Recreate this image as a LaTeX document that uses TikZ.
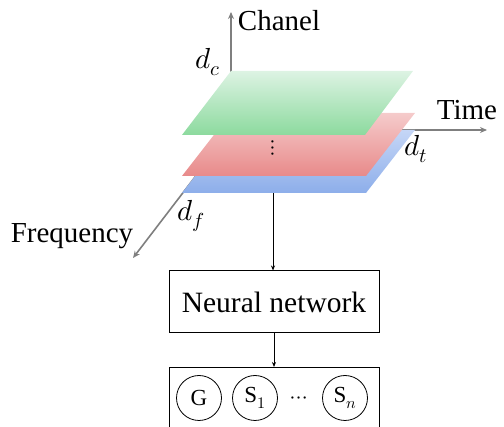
\documentclass[tikz,border=0pt]{standalone}
\usepackage{fontspec}
\usepackage{unicode-math}
\setmainfont{Liberation Serif}
\setmathfont{Latin Modern Math}
\usetikzlibrary{arrows.meta}
\definecolor{gtop}{HTML}{DDF3E3}
\definecolor{gbot}{HTML}{8CDA9E}
\definecolor{rtop}{HTML}{F5CBCB}
\definecolor{rbot}{HTML}{E88A8A}
\definecolor{btop}{HTML}{C5D6F6}
\definecolor{bbot}{HTML}{8DAEEA}
\definecolor{axisgray}{HTML}{7F7F7F}
\begin{document}
\begin{tikzpicture}[x=1pt,y=-1pt,
  axis/.style={draw=axisgray,line width=1.6pt,-{Stealth[length=7pt,width=6pt]}},
  flow/.style={draw=black,line width=0.8pt,-{Stealth[length=5pt,width=4pt]}},
  lbl/.style={font=\fontsize{29}{33}\selectfont, inner sep=0pt},
  box/.style={draw=black,line width=1pt,minimum width=210pt,inner sep=0pt,font=\fontsize{29.5}{33}\selectfont},
  cir/.style={circle,draw=black,line width=0.8pt,minimum size=45pt,inner sep=0pt,font=\fontsize{23}{26}\selectfont}]
\useasboundingbox (0,0) rectangle (504,427);
\clip (0,0) rectangle (504,427);
% axes
\coordinate (O) at (231,130);
\coordinate (C) at (231,12);
\coordinate (T) at (487,130);
\coordinate (F) at (133,258);
\draw[axis] (O) -- (C);
\draw[axis] (O) -- (T);
\draw[axis] (O) -- (F);
% planes
\shade[top color=btop,bottom color=bbot] (182,193) -- (366,193) -- (415,130) -- (231,130) -- cycle;
\shade[top color=rtop,bottom color=rbot] (182,176) -- (366,176) -- (415,113) -- (231,113) -- cycle;
\shade[top color=gtop,bottom color=gbot] (182,135) -- (365,135) -- (413,71) -- (231,71) -- cycle;
\node[font=\fontsize{22}{24}\selectfont, inner sep=0pt] (dots) at (273,148) {$\vdots$};
% labels
\node[lbl] (chanel) at (279,21) {Chanel};
\node[lbl] (time) at (467,110) {Time};
\node[lbl] (freq) at (72,236) {Frequency};
\node[lbl] (dc) at (208,62) {$d_c$};
\node[lbl] (dt) at (416,149) {$d_t$};
\node[lbl] (df) at (191,216) {$d_f$};
% network
\coordinate (bp) at (273,193);
\node[box, minimum height=62pt] (nn) at (274,302) {Neural network};
\node[box, minimum height=80pt, anchor=north] (out) at (274,367) {};
\node[cir] (g) at (199,398) {G};
\node[cir] (s1) at (255,398) {S$_1$};
\node[font=\fontsize{22}{26}\selectfont, inner sep=0pt] (ell) at (299,400) {$\cdots$};
\node[cir] (sn) at (345,398) {S$_n$};
\draw[flow] (bp) -- (bp |- nn.north);
\draw[flow] (nn.south) -- (out.north);
\end{tikzpicture}
\end{document}
